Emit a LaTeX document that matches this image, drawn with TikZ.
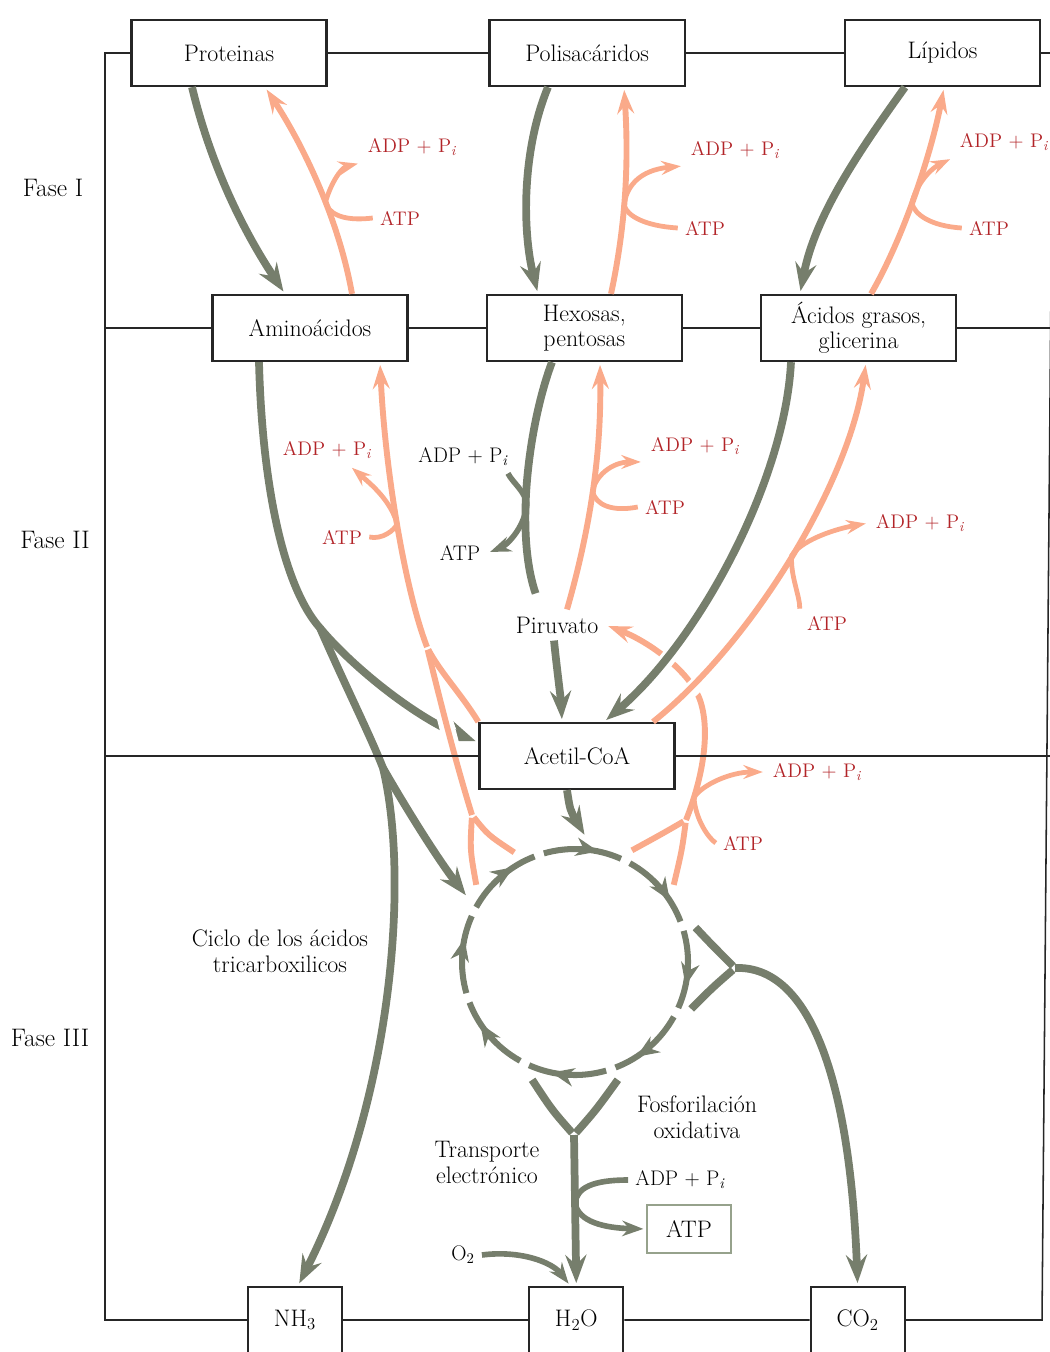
\documentclass[tikz,border=0pt]{standalone}
\usepackage{xcolor}
\definecolor{darkgray}{HTML}{262626}
\definecolor{catabgray}{RGB}{118,126,108}
\definecolor{anabsalmon}{RGB}{250,170,138}
\definecolor{energyred}{RGB}{178,36,40}
\definecolor{atpframe}{RGB}{150,162,140}
\usetikzlibrary{positioning,arrows.meta,decorations.markings}

\begin{document}
\begin{tikzpicture}[x=0.025cm, y=-0.025cm,
    compound/.style={
        rectangle, minimum width=4.875cm, minimum height=1.65cm,
        line width=1.6pt, draw=darkgray, fill=white, align=center,
        font=\fontsize{17}{18}\selectfont},
    small compound/.style={compound, minimum width=2.35cm},
    atp box/.style={
        rectangle, minimum width=2.1cm, minimum height=1.2cm,
        line width=1.2pt, draw=atpframe, font=\fontsize{17}{18}\selectfont},
    txt/.style={align=center, inner sep=5pt, font=\fontsize{17}{18.5}\selectfont},
    small txt/.style={inner sep=5pt, font=\fontsize{15}{18}\selectfont},
    phase/.style={inner sep=5pt, font=\fontsize{18}{20}\selectfont},
    energy/.style={text=energyred, inner sep=5pt, font=\fontsize{14}{16}\selectfont},
    frame/.style={draw=darkgray, line width=1.1pt},
    catab/.style={
        draw=catabgray, line width=5.5pt, shorten >=2pt,
        -{Stealth[length=20pt, width=15pt, inset=7pt]}},
    catab side/.style={
        catab, line width=4pt, -{Stealth[length=15pt, width=11pt, inset=5pt]}},
    anab/.style={
        draw=anabsalmon, line width=4.2pt, shorten >=2pt,
        -{Stealth[length=17pt, width=12pt, inset=6pt]}},
    anab side/.style={
        anab, line width=3.4pt, -{Stealth[length=14pt, width=10pt, inset=5pt]}},
    halo/.style={preaction={draw=white, line width=11pt, arrows=-,
        shorten <=#1, shorten >=#1}},
    halo/.default=18pt,
    tca arc/.style={
        draw=catabgray, line width=4.3pt, postaction={decorate},
        decoration={markings, mark=at position 0.7 with
            {\arrow{Stealth[length=16pt, width=13pt, inset=5pt]}}}}]
    \useasboundingbox (0,0) rectangle (1050,1352);

    \node (P) [compound] at (229,53) {Proteinas};
    \node (PS) [compound, right=4.02cm of P] {Polisacáridos};
    \node (L) [compound, right=3.95cm of PS] {Lípidos};
    \node (AM) [compound] at (310,328) {Aminoácidos};
    \node (HP) [compound, right=1.925cm of AM] {Hexosas,\\pentosas};
    \node (AG) [compound, right=1.925cm of HP] {Ácidos grasos,\\glicerina};
    \node (AC) [compound] at (577,756) {Acetil-CoA};
    \node (NH) [small compound] at (295,1320) {NH\textsubscript{3}};
    \node (HO) [small compound, right=4.625cm of NH] {H\textsubscript{2}O};
    \node (CO) [small compound, right=4.625cm of HO] {CO\textsubscript{2}};
    \node (ATPB) [atp box] at (689,1229) {ATP};
    \node (K) [circle, minimum size=6.25cm] at (575,962) {};

    \node (F1) [phase] at (53,188) {Fase I};
    \node (F2) [phase] at (55,540) {Fase II};
    \node (F3) [phase] at (50,1038) {Fase III};
    \node (TCA) [txt] at (280,951) {Ciclo de los ácidos\\tricarboxilicos};
    \node (TE) [txt] at (487,1162) {Transporte\\electrónico};
    \node (FO) [txt] at (697,1117) {Fosforilación\\oxidativa};
    \node (PIR) [txt] at (557,625) {Piruvato};
    \node (ADPK) [small txt] at (463,457) {ADP + P\textsubscript{\itshape i}};
    \node (ATPK) [small txt] at (460,553) {ATP};
    \node (ADPB) [small txt] at (680,1180) {ADP + P\textsubscript{\itshape i}};
    \node (OX) [small txt] at (463,1255) {O\textsubscript{2}};
    \foreach \n/\xa/\ya/\xb/\yb in {1/412/147/400/218, 2/735/150/705/228,
        3/1004/142/989/228, 4/327/450/342/537, 5/695/446/665/507,
        6/920/523/827/623, 7/817/772/743/843} {
        \node (ADP\n) [energy] at (\xa,\ya) {ADP + P\textsubscript{\itshape i}};
        \node (ATP\n) [energy] at (\xb,\yb) {ATP};
    }

    \coordinate (TL) at (105,53);
    \coordinate (BL) at (105,1320);
    \coordinate (TR) at (1053,53);
    \coordinate (BR) at (1042,1320);
    \coordinate (B1) at (320,628);
    \coordinate (B2) at (383,768);
    \coordinate (M1) at (472,815);
    \coordinate (M2) at (427,647);
    \coordinate (M3) at (686,820);
    \coordinate (R1) at (735,968);
    \coordinate (Y1) at (574,1135);

    \draw[anab, -] (K.63) .. controls (660,835) .. (M3);
    \draw[anab, -] (K.38) .. controls (682,850) .. (M3);
    \draw[anab] (M3) .. controls (700,785) and (712,735) .. (700,700) coordinate[pos=0.2] (J7)
        .. controls (690,672) and (650,642) .. (PIR.east);

    \draw[catab] (P.south -| 192,0) .. controls (212,170) and (246,235) .. (AM.north -| 285,0);
    \draw[catab] (PS.south -| 548,0) .. controls (522,150) and (522,230) .. (HP.north -| 538,0);
    \draw[catab] (L.south -| 905,0) .. controls (860,150) and (815,215) .. (AG.north -| 800,0);
    \draw[catab] (AM.south -| 259,0) .. controls (262,480) and (282,585) .. (B1)
        .. controls (345,685) and (370,735) .. (B2)
        .. controls (410,880) and (392,1100) .. (NH.north -| 298,0);
    \draw[catab] (B1) .. controls (355,670) and (420,720) .. (AC.172);
    \draw[catab] (B2) .. controls (410,815) and (440,862) .. (K.149);
    \draw[catab, -, shorten >=12pt] (HP.south -| 552,0) .. controls (530,420) and (514,530) .. (PIR.north -| 541,0) coordinate[pos=0.6] (JK);
    \draw[catab] (PIR.south -| 554,0) .. controls (557,670) and (561,700) .. (AC.north -| 562,0);
    \draw[catab, halo] (AG.south -| 791,0) .. controls (785,480) and (700,640) .. (AC.north -| 604,0);
    \draw[catab] (AC.south -| 567,0) .. controls (570,810) .. (K.85);
    \draw[catab, -] (K.16) .. controls (712,945) .. (R1);
    \draw[catab, -] (K.-22) .. controls (712,988) .. (R1);
    \draw[catab] (R1) .. controls (810,965) and (850,1080) .. (CO.north);
    \draw[catab, -] (K.-110) .. controls (552,1110) .. (Y1);
    \draw[catab, -] (K.-70) .. controls (596,1110) .. (Y1);
    \draw[catab] (Y1) -- (HO.north) coordinate[pos=0.45] (Y2);

    \draw[anab] (AM.north -| 352,0) .. controls (338,215) and (300,140) .. (P.south -| 265,0) coordinate[pos=0.4] (J1);
    \draw[anab] (HP.north -| 611,0) .. controls (628,215) and (628,150) .. (PS.south -| 624,0) coordinate[pos=0.4] (J2);
    \draw[anab] (AG.north -| 871,0) .. controls (905,235) and (932,150) .. (L.south -| 944,0) coordinate[pos=0.45] (J3);
    \draw[anab, halo, -] (M1) .. controls (455,760) and (440,700) .. (M2);
    \draw[anab, -] (K.142) .. controls (470,850) .. (M1);
    \draw[anab, -] (K.119) .. controls (488,835) .. (M1);
    \draw[anab, -] (AC.north west) .. controls (462,695) and (440,672) .. (M2);
    \draw[anab] (M2) .. controls (405,590) and (385,470) .. (AM.south -| 380,0) coordinate[pos=0.5] (J4);
    \draw[anab] (PIR.north -| 567,0) .. controls (597,505) and (601,430) .. (HP.south -| 600,0) coordinate[pos=0.42] (J5);
    \draw[anab, halo] (AC.north -| 653,0) .. controls (755,640) and (850,480) .. (AG.south -| 866,0) coordinate[pos=0.5] (J6);

    \foreach \a in {0,...,7}
        \draw[tca arc] (K.center) ++({-106+45*\a}:113) arc[start angle={-106+45*\a}, delta angle=40, radius=113];

    \draw[anab side] (ATP1.west) .. controls (340,222) and (328,212) .. (J1) .. controls (330,186) and (340,168) .. (ADP1.south west);
    \draw[anab side] (ATP2.west) .. controls (645,226) and (627,216) .. (J2) .. controls (626,188) and (638,170) .. (ADP2.south west);
    \draw[anab side] (ATP3.west) .. controls (930,226) and (914,214) .. (J3) .. controls (915,188) and (928,170) .. (ADP3.south west);
    \draw[anab side] (ATP4.east) .. controls (382,540) and (395,530) .. (J4) .. controls (390,500) and (372,485) .. (ADP4.-35);
    \draw[anab side] (ATP5.west) .. controls (612,512) and (596,505) .. (J5) .. controls (595,476) and (612,462) .. (ADP5.south west);
    \draw[anab side] (ATP6.north west) .. controls (800,596) and (790,575) .. (J6) .. controls (800,542) and (830,530) .. (ADP6.west);
    \draw[anab side] (ATP7.west) .. controls (705,835) and (695,815) .. (J7) .. controls (702,785) and (730,772) .. (ADP7.west);
    \draw[catab side] (ADPK.-20) .. controls (512,482) and (526,492) .. (JK) .. controls (524,530) and (505,546) .. (ATPK.east);
    \draw[catab side] (ADPB.west) .. controls (592,1180) and (577,1188) .. (Y2) .. controls (578,1222) and (605,1228) .. (ATPB.west);
    \draw[catab side] (OX.east) .. controls (520,1250) and (552,1262) .. (HO.100);

    \draw[frame] (P.west) -- (TL) -- (BL) -- (NH.west) (NH.east) -- (HO.west)
        (HO.east) -- (CO.west) (CO.east) -- (BR) -- (TR) -- (L.east)
        (P.east) -- (PS.west) (PS.east) -- (L.west);
    \draw[frame] (TL |- AM) -- (AM.west) (AM.east) -- (HP.west)
        (HP.east) -- (AG.west) (AG.east) -- (TR |- AG);
    \draw[frame] (TL |- AC) -- (AC.west) (AC.east) -- (TR |- AC);
\end{tikzpicture}
\end{document}
